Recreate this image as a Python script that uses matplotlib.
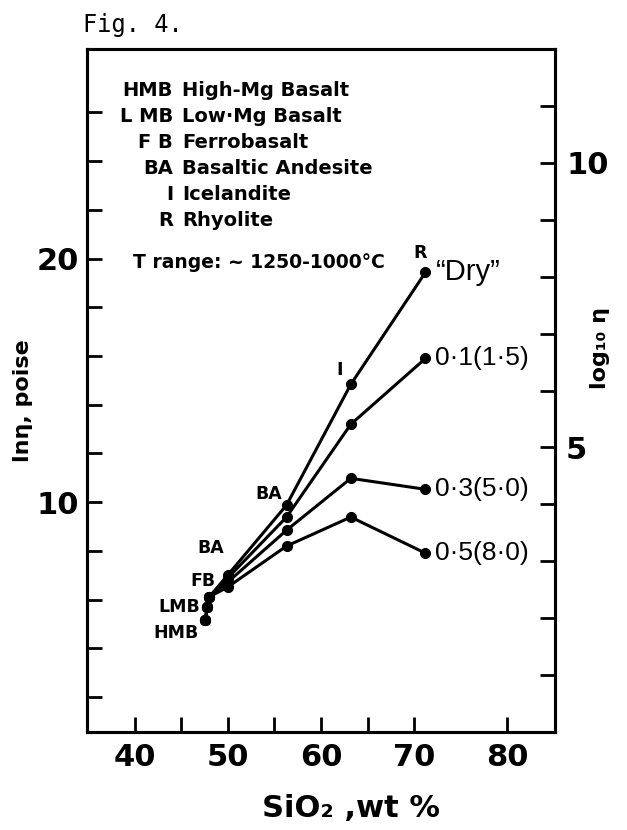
import matplotlib.pyplot as plt

# SiO2 (wt %) of the compositions along each curve: HMB, -, LMB, FB, BA, I, R
sio2 = [47.6, 47.8, 48.0, 50.0, 56.3, 63.2, 71.2]

# ln viscosity (poise) for each water content
ln_dry = [5.16, 5.70, 6.11, 7.01, 9.88, 14.84, 19.43]
ln_w01 = [5.16, 5.70, 6.11, 6.89, 9.39, 13.20, 15.90]
ln_w03 = [5.16, 5.70, 6.11, 6.72, 8.85, 10.98, 10.53]
ln_w05 = [5.16, 5.70, 6.11, 6.52, 8.20, 9.39, 7.91]
curve_labels = ['\u201cDry\u201d', '0\u00b71(1\u00b75)', '0\u00b73(5\u00b70)', '0\u00b75(8\u00b70)']

legend_abbr = ['HMB', 'L MB', 'F B', 'BA', 'I', 'R']
legend_name = ['High-Mg Basalt', 'Low\u00b7Mg Basalt', 'Ferrobasalt',
               'Basaltic Andesite', 'Icelandite', 'Rhyolite']

x_major = [40, 50, 60, 70, 80]
x_minor = [45, 55, 65]
ln_ticks = list(range(2, 27, 2))
ln_labels = [10, 20]
log_ticks = list(range(1, 12))
log_labels = [5, 10]

W, H = 627, 830
fig = plt.figure(figsize=(W / 100, H / 100), dpi=100)
ax = fig.add_axes([87 / W, 1 - 732 / H, (555 - 87) / W, (732 - 49) / H])
ax2 = ax.twinx()

series = [ln_dry, ln_w01, ln_w03, ln_w05]
for vals in series:
    ax.plot(sio2, vals, '-o', color='black', lw=2.2, ms=7, solid_capstyle='round')

ax.set_xlim(34.9, 85.1)
ax.set_ylim(0.57, 28.6)
ax2.set_ylim(0, 12)

tick_font = dict(family='DejaVu Sans', weight='bold', size=22)
ax.set_xticks(x_major)
ax.set_xticklabels([str(v) for v in x_major], fontdict=tick_font)
ax.set_xticks(x_minor, minor=True)
ax.set_yticks(ln_ticks)
ax.set_yticklabels([str(v) if v in ln_labels else '' for v in ln_ticks], fontdict=tick_font)
ax2.set_yticks(log_ticks)
ax2.set_yticklabels([str(v) if v in log_labels else '' for v in log_ticks], fontdict=tick_font)

for a in (ax, ax2):
    for s in a.spines.values():
        s.set_linewidth(2.2)
ax.tick_params(axis='both', which='both', direction='in', length=11, width=2)
ax.tick_params(axis='x', pad=8)
ax.tick_params(axis='y', pad=6)
ax2.tick_params(axis='y', direction='in', length=11, width=2, pad=8)

# labels at the ends of the curves
for vals, lab in zip(series, curve_labels):
    ax.annotate(lab, (sio2[-1], vals[-1]), xytext=(10, 0), textcoords='offset pixels',
                ha='left', va='center', fontsize=21 if 'Dry' in lab else 19,
                family='Liberation Sans')

# composition labels next to points
bold = dict(family='DejaVu Sans', weight='bold', fontsize=12.5)
point_labels = [('R', 0, 6, (-5, 19)), ('I', 0, 5, (-11, 14)), ('BA', 0, 4, (-18, 11)),
                ('BA', 0, 3, (-17, 27)), ('FB', 0, 3, (-25, -6)), ('LMB', 0, 2, (-30, -10)),
                ('HMB', 0, 0, (-29, -13))]
for txt, si, pi, off in point_labels:
    ax.annotate(txt, (sio2[pi], series[si][pi]), xytext=off, textcoords='offset pixels',
                ha='center', va='center', **bold)

# legend block
leg = dict(family='DejaVu Sans', weight='bold', fontsize=14)
row_y = [90, 116, 142, 168, 194, 220]
for y, ab, nm in zip(row_y, legend_abbr, legend_name):
    fig.text(173 / W, 1 - y / H, ab, ha='right', va='center', **leg)
    fig.text(182 / W, 1 - y / H, nm, ha='left', va='center', **leg)
fig.text(133 / W, 1 - 263 / H, 'T range: ~ 1250-1000\u00b0C', ha='left', va='center',
         family='DejaVu Sans', weight='bold', fontsize=13.5)

fig.text(83 / W, 1 - 25 / H, 'Fig. 4.', ha='left', va='center', family='DejaVu Sans Mono', fontsize=17)

fig.text(23 / W, 1 - 401 / H, 'ln\u03b7, poise', rotation=90, ha='center', va='center',
         family='DejaVu Sans', weight='bold', fontsize=16)
fig.text(600 / W, 1 - 348 / H, 'log\u2081\u2080 \u03b7', rotation=90, ha='center', va='center',
         family='DejaVu Sans', weight='bold', fontsize=16)
fig.text(351 / W, 1 - 808 / H, 'SiO\u2082 ,wt %', ha='center', va='center',
         family='DejaVu Sans', weight='bold', fontsize=22)

fig.savefig('out.png', dpi=100, facecolor='white')
